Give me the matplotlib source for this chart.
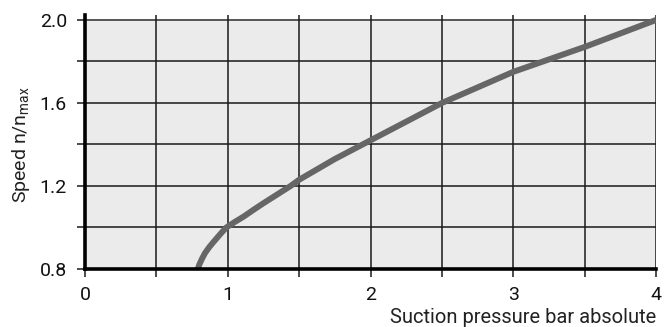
import matplotlib
matplotlib.use("Agg")
import matplotlib.pyplot as plt

# Data
pressure = [0.79, 0.80, 0.82, 0.84, 0.87, 0.90, 0.95, 0.99, 1.05, 1.11, 1.18, 1.25, 1.44, 1.50, 1.75, 2.00, 2.25, 2.50, 2.75, 3.00, 3.25, 3.50, 3.75, 4.00]
speed = [0.80, 0.82, 0.85, 0.876, 0.905, 0.93, 0.97, 1.00, 1.027, 1.052, 1.085, 1.117, 1.20, 1.23, 1.33, 1.42, 1.51, 1.60, 1.675, 1.75, 1.81, 1.87, 1.935, 2.00]
x_major = [0, 1, 2, 3, 4]
x_minor = [0.5, 1.5, 2.5, 3.5]
y_major = [0.8, 1.2, 1.6, 2.0]
y_minor = [1.0, 1.4, 1.8]
y_major_labels = ["0.8", "1.2", "1.6", "2.0"]
x_major_labels = ["0", "1", "2", "3", "4"]

plt.rcParams['mathtext.default'] = 'regular'
font = ['Roboto', 'DejaVu Sans']

fig = plt.figure(figsize=(6.71, 3.27), dpi=100)
ax = fig.add_axes([85/671, 58/327, (656-85)/671, (312-58)/327])
ax.set_xlim(0, 4)
ax.set_ylim(0.8, 2.024)
ax.set_facecolor('white')
ax.axhspan(0.8, 2.0, color='#ebebeb', zorder=0, lw=0)

# grid
for yv in y_major + y_minor:
    if yv == 0.8:
        continue
    ax.axhline(yv, color='#555555' if yv == 2.0 else '#1a1a1a', lw=1.4 if yv == 2.0 else 1.1, zorder=1)
for xv in x_major + x_minor:
    if xv == 0:
        continue
    ax.axvline(xv, color='#1a1a1a', lw=1.1, zorder=1)

ax.plot(pressure, speed, color='#666666', lw=4.3, solid_capstyle='butt', zorder=3)

for s in ['top', 'right']:
    ax.spines[s].set_visible(False)
ax.spines['left'].set_linewidth(2.6)
ax.spines['bottom'].set_linewidth(2.6)
ax.spines['left'].set_zorder(4)
ax.spines['bottom'].set_zorder(4)

ax.set_xticks(x_major)
ax.set_xticklabels(x_major_labels, family=font, fontsize=14, color='#111111')
ax.set_xticks(x_minor, minor=True)
ax.set_yticks(y_major)
ax.set_yticklabels(y_major_labels, family=font, fontsize=14, color='#111111')
ax.set_yticks(y_minor, minor=True)
ax.tick_params(which='both', direction='out', length=6, width=1.1, color='#1a1a1a')
ax.tick_params(axis='x', which='major', pad=6)
ax.tick_params(axis='y', which='major', pad=7)

ax.set_xlabel('Suction pressure bar absolute', family=font, fontsize=14.5, color='#222222')
ax.xaxis.set_label_coords(1.0, -(308-269)/254)
ax.xaxis.label.set_horizontalalignment('right')
ax.xaxis.label.set_verticalalignment('top')
ax.set_ylabel('Speed n/n$_{max}$', family=font, fontsize=14, color='#222222')
ax.yaxis.set_label_coords(-(85-32)/571, 0.49)

fig.savefig('out.png', dpi=100)
